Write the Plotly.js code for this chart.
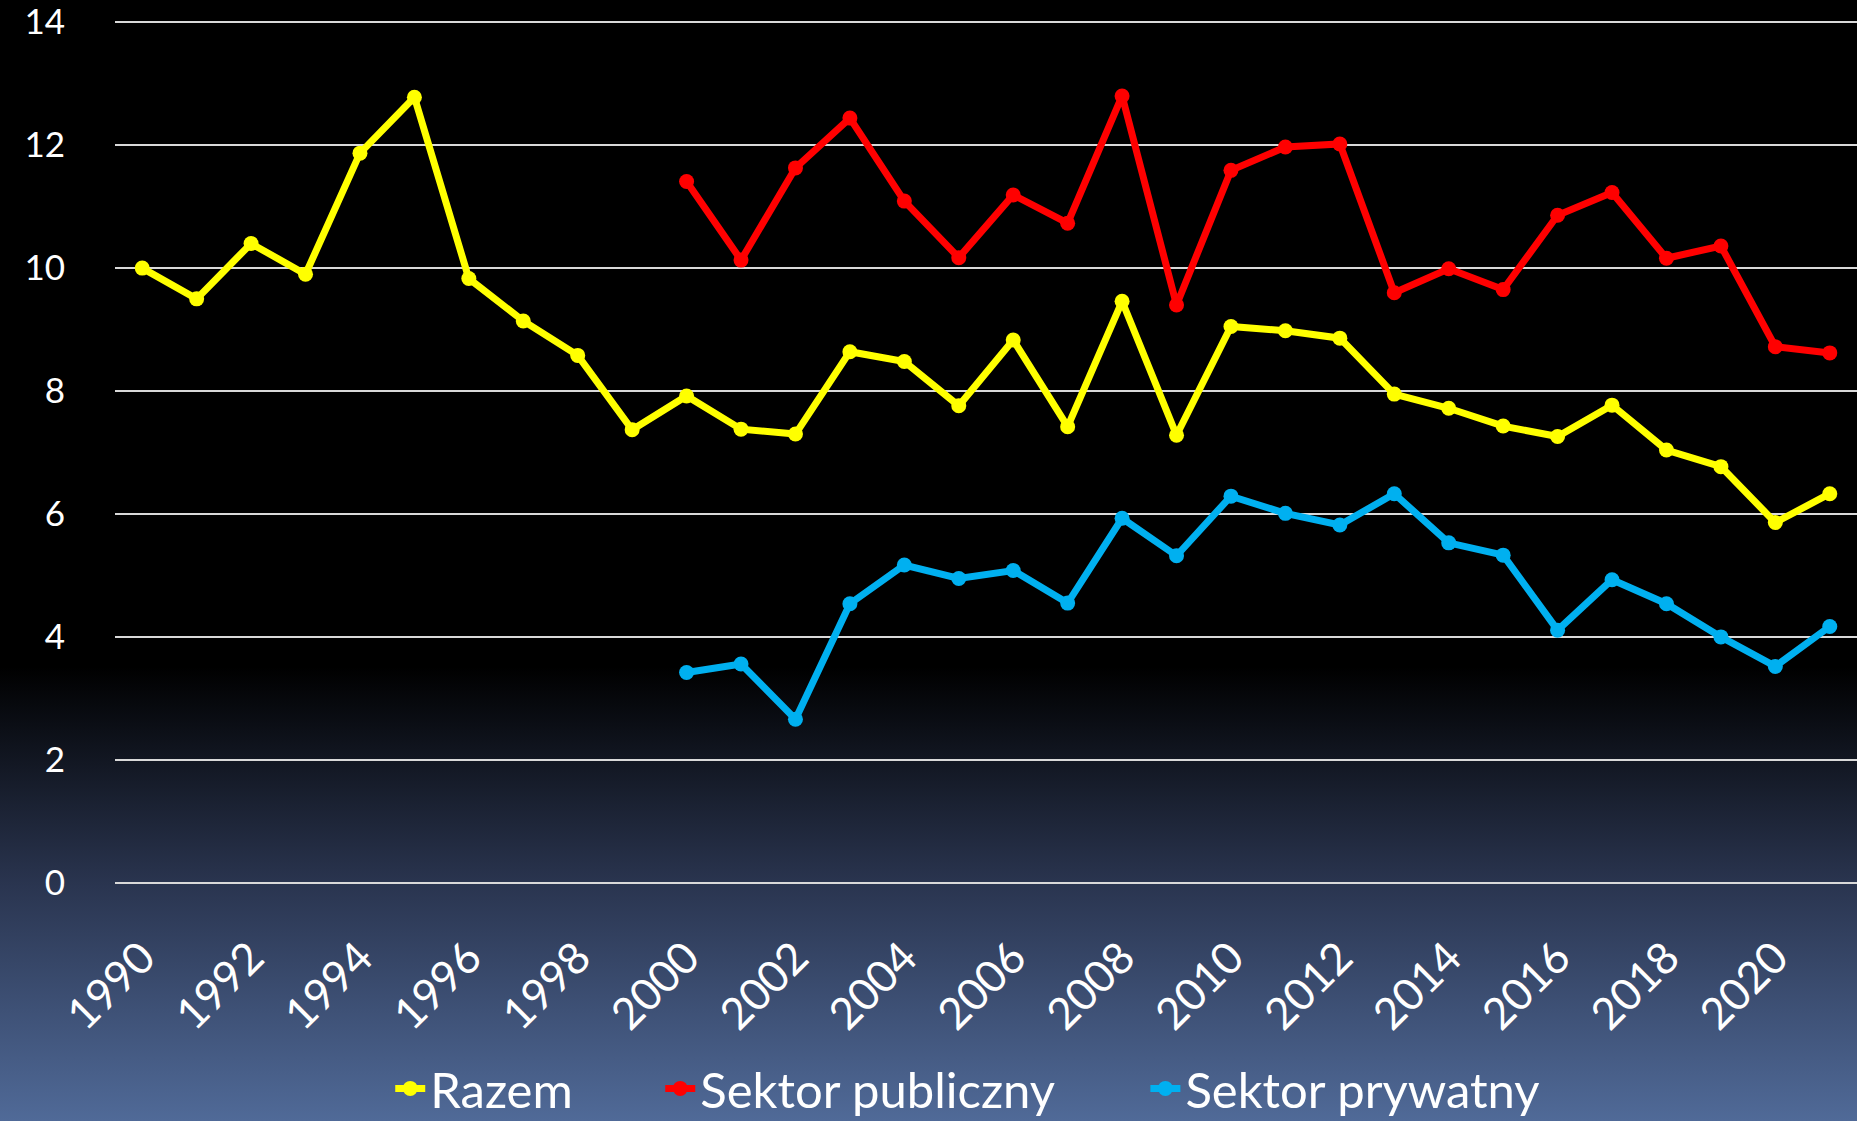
<!DOCTYPE html>
<html>
<head>
<meta charset="utf-8">
<script src="https://cdn.plot.ly/plotly-3.0.1.min.js"></script>
<style>
  html, body { margin: 0; padding: 0; }
  body {
    width: 1857px; height: 1121px; overflow: hidden;
    background: linear-gradient(to bottom, #000000 0%, #000000 59.5%, #2a3550 79%, #506a98 100%);
  }
  #chart { width: 1857px; height: 1121px; }
</style>
</head>
<body>
<div id="chart"></div>
<script>
const years = [1990,1991,1992,1993,1994,1995,1996,1997,1998,1999,2000,2001,2002,2003,2004,2005,2006,2007,2008,2009,2010,2011,2012,2013,2014,2015,2016,2017,2018,2019,2020,2021];
const razem = [10.0,9.5,10.4,9.9,11.87,12.78,9.83,9.14,8.58,7.37,7.92,7.38,7.30,8.64,8.48,7.76,8.83,7.42,9.46,7.28,9.05,8.98,8.86,7.95,7.72,7.43,7.26,7.77,7.04,6.77,5.86,6.33];
const sectorYears = [2000,2001,2002,2003,2004,2005,2006,2007,2008,2009,2010,2011,2012,2013,2014,2015,2016,2017,2018,2019,2020,2021];
const publiczny = [11.41,10.13,11.63,12.44,11.09,10.17,11.19,10.73,12.80,9.40,11.59,11.97,12.02,9.60,9.99,9.65,10.86,11.23,10.16,10.36,8.72,8.62];
const prywatny = [3.42,3.56,2.66,4.54,5.17,4.95,5.08,4.55,5.93,5.32,6.29,6.01,5.82,6.33,5.53,5.33,4.11,4.93,4.54,4.00,3.52,4.17];
const xTicks = [1990,1992,1994,1996,1998,2000,2002,2004,2006,2008,2010,2012,2014,2016,2018,2020];
const yTicks = [0,2,4,6,8,10,12,14];
const seriesNames = ['Razem','Sektor publiczny','Sektor prywatny'];
const seriesColors = ['#ffff00','#ff0000','#00b0f0'];
const legendIds = ['legend','legend2','legend3'];

function series(x, y, i) {
  return {
    x: x, y: y, type: 'scatter', mode: 'lines+markers', name: seriesNames[i],
    legend: legendIds[i],
    line: {color: seriesColors[i], width: 7},
    marker: {color: seriesColors[i], size: 15, symbol: 'circle'}
  };
}

const data = [
  series(years, razem, 0),
  series(sectorYears, publiczny, 1),
  series(sectorYears, prywatny, 2)
];

function legendAt(xp) {
  return {
    orientation: 'h', x: xp, xanchor: 'left', xref: 'paper',
    y: -0.237, yanchor: 'middle',
    font: {size: 49, color: '#ffffff'},
    bgcolor: 'rgba(0,0,0,0)', itemwidth: 30
  };
}

const layout = {
  width: 1857, height: 1121,
  paper_bgcolor: 'rgba(0,0,0,0)',
  plot_bgcolor: 'rgba(0,0,0,0)',
  margin: {l: 115, r: 0, t: 21, b: 237, autoexpand: false},
  font: {family: 'Lato, "Open Sans", sans-serif', color: '#ffffff'},
  showlegend: true,
  legend: legendAt(0.158),
  legend2: legendAt(0.313),
  legend3: legendAt(0.5915),
  xaxis: {
    type: 'linear', range: [1989.5, 2021.5], automargin: false,
    tickmode: 'array', tickvals: xTicks, ticktext: xTicks.map(String),
    tickangle: -45, tickfont: {size: 44, color: '#ffffff'},
    ticklabeloverflow: 'allow',
    showgrid: false, zeroline: false, showline: false,
    ticks: 'outside', ticklen: 29, tickcolor: 'rgba(0,0,0,0)'
  },
  yaxis: {
    range: [-0.02, 14.02], automargin: false,
    tickmode: 'array', tickvals: yTicks, ticktext: yTicks.map(String),
    tickfont: {size: 35, color: '#ffffff'},
    ticklabeloverflow: 'allow',
    showgrid: true, gridcolor: '#d9d9d9', gridwidth: 2,
    zeroline: false, showline: false,
    ticks: 'outside', ticklen: 42, tickcolor: 'rgba(0,0,0,0)'
  }
};

Plotly.newPlot('chart', data, layout, {displayModeBar: false, staticPlot: true});
</script>
</body>
</html>
